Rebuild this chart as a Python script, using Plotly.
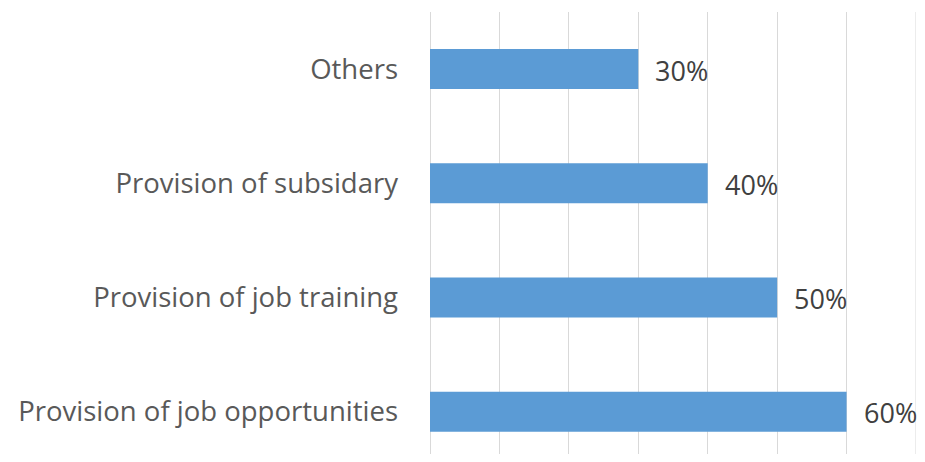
import plotly.graph_objects as go

categories = ["Provision of job opportunities", "Provision of job training",
              "Provision of subsidary", "Others"]
values = [0.60, 0.50, 0.40, 0.30]
value_labels = ["60%", "50%", "40%", "30%"]

FONT = "Open Sans"

fig = go.Figure()
fig.add_trace(go.Bar(
    y=categories, x=values, orientation="h",
    marker=dict(color="#5B9BD5", line=dict(width=0)),
    width=0.35,
    hoverinfo="skip",
))

for c, v, t in zip(categories, values, value_labels):
    fig.add_annotation(x=v, y=c, text=t, showarrow=False, xanchor="left",
                       xshift=15, yshift=-1,
                       font=dict(family=FONT, size=27, color="#404040"))

# page body adds an 8px margin, so the figure is shrunk to avoid overflow
fig.update_layout(
    width=909, height=446,
    margin=dict(l=422, r=1, t=4, b=0),
    paper_bgcolor="white", plot_bgcolor="white",
    showlegend=False,
    xaxis=dict(range=[0, 0.7], dtick=0.1, showticklabels=False,
               showgrid=True, gridcolor="#D9D9D9", gridwidth=1,
               zeroline=True, zerolinecolor="#D9D9D9", zerolinewidth=1,
               showline=False),
    yaxis=dict(type="category", range=[-0.37, 3.5], showgrid=False,
               zeroline=False, showline=False, ticks="",
               ticklabelstandoff=31, automargin=False,
               tickfont=dict(family=FONT, size=27.5, color="#595959")),
)
fig.add_shape(type="line", xref="x", yref="paper", x0=0.7, x1=0.7, y0=0, y1=1,
              line=dict(color="#D9D9D9", width=1), layer="below")

fig.write_html("out.html")
